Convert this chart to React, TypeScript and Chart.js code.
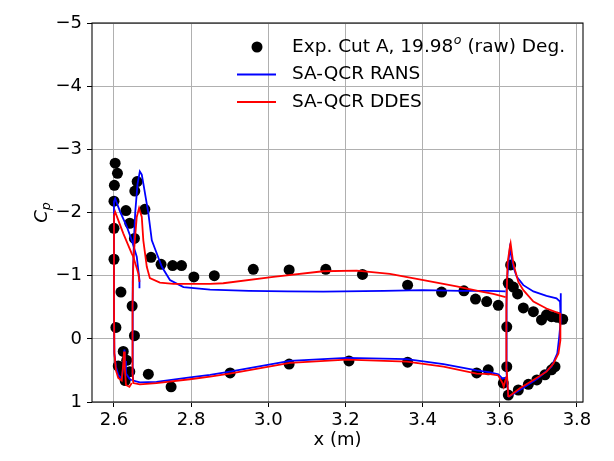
import React, { useEffect, useRef } from "react";
import { Chart, registerables } from "chart.js";

Chart.register(...registerables);

// ---- axes ----
const xTicks = [2.6, 2.8, 3.0, 3.2, 3.4, 3.6, 3.8];
const yTicks = [-5, -4, -3, -2, -1, 0, 1];
const xRange = [2.543, 3.8156];
const yRange = [-5, 1];

// ---- legend / titles ----
const legendLabels = ["Exp. Cut A, 19.98", "SA-QCR RANS", "SA-QCR DDES"];
const xTitle = "x (m)";

// ---- experiment (x, Cp) ----
const expUpper: [number, number][] = [
  [2.603, -2.78], [2.609, -2.62], [2.601, -2.43], [2.6, -2.18], [2.631, -2.03],
  [2.66, -2.49], [2.654, -2.34], [2.68, -2.05], [2.641, -1.83], [2.6, -1.75],
  [2.653, -1.59], [2.6, -1.26], [2.696, -1.29], [2.722, -1.18], [2.752, -1.16],
  [2.775, -1.16], [2.807, -0.98], [2.86, -1.0], [2.961, -1.1], [3.054, -1.09],
  [3.149, -1.1], [3.244, -1.02], [3.361, -0.85], [3.449, -0.74], [3.507, -0.76],
  [3.537, -0.63], [3.566, -0.59], [3.596, -0.53], [2.618, -0.74], [2.647, -0.52],
  [2.605, -0.18], [2.653, -0.05], [3.618, -0.19], [3.628, -1.17], [3.622, -0.88],
  [3.635, -0.82], [3.646, -0.71], [3.661, -0.49], [3.687, -0.43], [3.708, -0.3],
  [3.721, -0.38], [3.734, -0.35], [3.749, -0.34], [3.763, -0.31],
];
const expLower: [number, number][] = [
  [2.624, 0.2], [2.611, 0.43], [2.633, 0.34], [2.622, 0.55], [2.629, 0.66],
  [2.641, 0.52], [2.689, 0.56], [2.748, 0.76], [2.901, 0.54], [3.054, 0.4],
  [3.209, 0.35], [3.361, 0.37], [3.54, 0.54], [3.57, 0.49], [3.618, 0.44],
  [3.609, 0.7], [3.622, 0.89], [3.648, 0.81], [3.674, 0.72], [3.696, 0.65],
  [3.717, 0.57], [3.734, 0.49], [3.743, 0.44],
];

// ---- SA-QCR RANS (x, Cp) per element ----
const ransSlat: [number, number][] = [
  [2.666, -0.8], [2.666, -0.93], [2.663, -1.09], [2.659, -1.3], [2.646, -1.56],
  [2.633, -1.78], [2.616, -2.01], [2.603, -2.22], [2.6, -2.17], [2.6, -1.5],
  [2.6, -0.5], [2.601, 0.23], [2.605, 0.44], [2.611, 0.57], [2.62, 0.63],
  [2.624, 0.45], [2.627, 0.17], [2.629, 0.35], [2.631, 0.55], [2.64, 0.63],
  [2.646, 0.66],
];
const ransMain: [number, number][] = [
  [3.617, 0.61], [3.607, 0.63], [3.596, 0.56], [3.575, 0.53], [3.54, 0.5],
  [3.454, 0.4], [3.359, 0.32], [3.203, 0.3], [3.056, 0.35], [2.9, 0.52],
  [2.849, 0.57], [2.797, 0.61], [2.71, 0.68], [2.667, 0.69], [2.65, 0.66],
  [2.648, 0.55], [2.648, 0.0], [2.649, -0.9], [2.652, -1.6], [2.655, -2.0],
  [2.661, -2.45], [2.667, -2.65], [2.672, -2.6], [2.676, -2.46], [2.689, -1.99],
  [2.698, -1.56], [2.706, -1.43], [2.724, -1.14], [2.745, -0.93], [2.78, -0.82],
  [2.849, -0.78], [2.95, -0.76], [3.05, -0.75], [3.142, -0.746], [3.3, -0.76],
  [3.4, -0.77], [3.5, -0.76], [3.575, -0.76], [3.615, -0.75],
];
const ransFlap: [number, number][] = [
  [3.622, 0.92], [3.617, 0.5], [3.617, 0.0], [3.618, -0.8], [3.622, -1.2],
  [3.626, -1.43], [3.635, -1.14], [3.644, -0.98], [3.661, -0.85], [3.687, -0.75],
  [3.721, -0.68], [3.747, -0.64], [3.756, -0.59], [3.758, -0.72], [3.758, -0.3],
  [3.754, -0.03], [3.749, 0.23], [3.734, 0.44], [3.7, 0.62], [3.66, 0.78],
  [3.622, 0.92],
];

// ---- SA-QCR DDES (x, Cp) per element ----
const ddesSlat: [number, number][] = [
  [2.666, -0.9], [2.663, -1.04], [2.65, -1.3], [2.646, -1.35], [2.624, -1.67],
  [2.603, -2.01], [2.6, -1.95], [2.6, -0.5], [2.601, 0.23], [2.605, 0.5],
  [2.611, 0.62], [2.62, 0.66], [2.624, 0.4], [2.626, 0.2], [2.628, 0.45],
  [2.631, 0.73], [2.64, 0.76], [2.646, 0.7],
];
const ddesMain: [number, number][] = [
  [3.617, 0.6], [3.61, 0.76], [3.607, 0.7], [3.596, 0.58], [3.575, 0.56],
  [3.54, 0.55], [3.454, 0.44], [3.359, 0.36], [3.203, 0.33], [3.056, 0.38],
  [2.9, 0.55], [2.849, 0.6], [2.797, 0.64], [2.71, 0.7], [2.667, 0.72],
  [2.65, 0.7], [2.648, 0.55], [2.648, -0.5], [2.65, -1.2], [2.654, -1.56],
  [2.659, -1.93], [2.665, -2.07], [2.672, -1.93], [2.676, -1.56], [2.685, -1.14],
  [2.693, -0.96], [2.719, -0.89], [2.754, -0.87], [2.849, -0.87], [2.883, -0.88],
  [3.013, -0.98], [3.142, -1.07], [3.229, -1.08], [3.315, -1.03], [3.402, -0.93],
  [3.488, -0.83], [3.549, -0.75], [3.583, -0.71], [3.615, -0.66],
];
const ddesFlap: [number, number][] = [
  [3.622, 0.92], [3.618, 0.5], [3.617, -0.5], [3.62, -1.2], [3.626, -1.45],
  [3.628, -1.51], [3.635, -1.19], [3.648, -0.9], [3.661, -0.77], [3.687, -0.59],
  [3.721, -0.48], [3.756, -0.4], [3.758, -0.3], [3.756, 0.02], [3.752, 0.23],
  [3.739, 0.39], [3.721, 0.52], [3.687, 0.65], [3.653, 0.78], [3.622, 0.92],
];

const FONT = '"DejaVu Sans", sans-serif';
const FS = 18;
const LFS = 18.5;
const SUB = 12.6;
const BLUE = "#0000ff";
const RED = "#ff0000";

const toXY = (arr: [number, number][]) => arr.map(([x, y]) => ({ x, y }));

const lineDs = (data: [number, number][], color: string, order: number) => ({
  data: toXY(data),
  showLine: true,
  borderColor: color,
  backgroundColor: color,
  borderWidth: 1.8,
  pointRadius: 0,
  pointHoverRadius: 0,
  fill: false,
  tension: 0,
  order,
});

const overlayPlugin = {
  id: "overlay",
  afterDatasetsDraw(chart: any) {
    const { ctx, chartArea: a } = chart;
    ctx.save();
    ctx.strokeStyle = "#000";
    ctx.lineWidth = 1.07;
    ctx.strokeRect(a.left, a.top, a.right - a.left, a.bottom - a.top);
    ctx.restore();
  },
  afterDraw(chart: any) {
    const { ctx, chartArea: a } = chart;
    ctx.save();
    ctx.fillStyle = "#000";
    // x title
    ctx.font = `${FS}px ${FONT}`;
    ctx.textAlign = "center";
    ctx.textBaseline = "middle";
    ctx.fillText(xTitle, (a.left + a.right) / 2, 440);
    // y title C_p
    ctx.save();
    ctx.translate(40, (a.top + a.bottom) / 2);
    ctx.rotate(-Math.PI / 2);
    ctx.textAlign = "left";
    ctx.textBaseline = "alphabetic";
    ctx.font = `italic ${FS}px ${FONT}`;
    const wC = ctx.measureText("C").width;
    ctx.font = `italic ${SUB}px ${FONT}`;
    const wp = ctx.measureText("p").width;
    const x0 = -(wC + wp) / 2;
    ctx.font = `italic ${FS}px ${FONT}`;
    ctx.fillText("C", x0, 6.5);
    ctx.font = `italic ${SUB}px ${FONT}`;
    ctx.fillText("p", x0 + wC, 10);
    ctx.restore();

    // legend
    const tx = 292;
    const rows = [47, 74.5, 102];
    ctx.textAlign = "left";
    ctx.textBaseline = "middle";
    ctx.beginPath();
    ctx.arc(257, rows[0], 5.5, 0, Math.PI * 2);
    ctx.fillStyle = "#000";
    ctx.fill();
    ctx.font = `${LFS}px ${FONT}`;
    ctx.fillText(legendLabels[0], tx, rows[0]);
    let w = ctx.measureText(legendLabels[0]).width;
    ctx.font = `italic ${SUB}px ${FONT}`;
    ctx.fillText("o", tx + w + 0.5, rows[0] - 6);
    w += ctx.measureText("o").width + 0.5;
    ctx.font = `${LFS}px ${FONT}`;
    ctx.fillText(" (raw) Deg.", tx + w, rows[0]);
    [BLUE, RED].forEach((c, i) => {
      const y = rows[i + 1];
      ctx.strokeStyle = c;
      ctx.lineWidth = 1.8;
      ctx.beginPath();
      ctx.moveTo(237, y);
      ctx.lineTo(276, y);
      ctx.stroke();
      ctx.fillStyle = "#000";
      ctx.fillText(legendLabels[i + 1], tx, y);
    });
    ctx.restore();
  },
};

export default function App() {
  const ref = useRef<HTMLCanvasElement | null>(null);
  useEffect(() => {
    if (!ref.current) return;
    const chart = new Chart(ref.current, {
      type: "scatter",
      data: {
        datasets: [
          {
            data: toXY([...expUpper, ...expLower]),
            pointRadius: 5.5,
            pointHoverRadius: 5.5,
            pointBackgroundColor: "#000",
            pointBorderWidth: 0,
            backgroundColor: "#000",
            borderColor: "#000",
            showLine: false,
            order: 5,
          } as any,
          lineDs(ransSlat, BLUE, 3),
          lineDs(ransMain, BLUE, 3),
          lineDs(ransFlap, BLUE, 3),
          lineDs(ddesSlat, RED, 1),
          lineDs(ddesMain, RED, 1),
          lineDs(ddesFlap, RED, 1),
        ],
      },
      options: {
        responsive: false,
        animation: false,
        events: [],
        layout: { padding: { left: 0, top: 23, right: 31, bottom: 0 } },
        plugins: { legend: { display: false }, tooltip: { enabled: false }, title: { display: false } },
        scales: {
          x: {
            type: "linear",
            min: xRange[0],
            max: xRange[1],
            afterBuildTicks: (s: any) => {
              s.ticks = xTicks.map((v) => ({ value: v }));
            },
            afterFit: (s: any) => {
              s.height = 59;
            },
            ticks: {
              autoSkip: false,
              maxRotation: 0,
              color: "#000",
              padding: 3,
              font: { family: FONT, size: FS },
              callback: (v: any) => Number(v).toFixed(1),
            },
            grid: { color: "#b0b0b0", lineWidth: 1, tickLength: 5, tickColor: "#000", tickWidth: 1 },
            border: { display: false },
          },
          y: {
            type: "linear",
            reverse: true,
            min: yRange[0],
            max: yRange[1],
            afterBuildTicks: (s: any) => {
              s.ticks = yTicks.map((v) => ({ value: v }));
            },
            afterFit: (s: any) => {
              s.width = 92;
            },
            ticks: {
              autoSkip: false,
              color: "#000",
              padding: 5,
              font: { family: FONT, size: FS },
              callback: (v: any) => (Number(v) < 0 ? "\u2212" + Math.abs(Number(v)) : String(v)),
            },
            grid: { color: "#b0b0b0", lineWidth: 1, tickLength: 5, tickColor: "#000", tickWidth: 1 },
            border: { display: false },
          },
        },
      },
      plugins: [overlayPlugin],
    });
    return () => chart.destroy();
  }, []);
  return (
    <div style={{ position: "fixed", left: 0, top: 0, width: 614, height: 461, background: "#fff" }}>
      <canvas ref={ref} width={614} height={461} style={{ width: 614, height: 461, display: "block" }} />
    </div>
  );
}
